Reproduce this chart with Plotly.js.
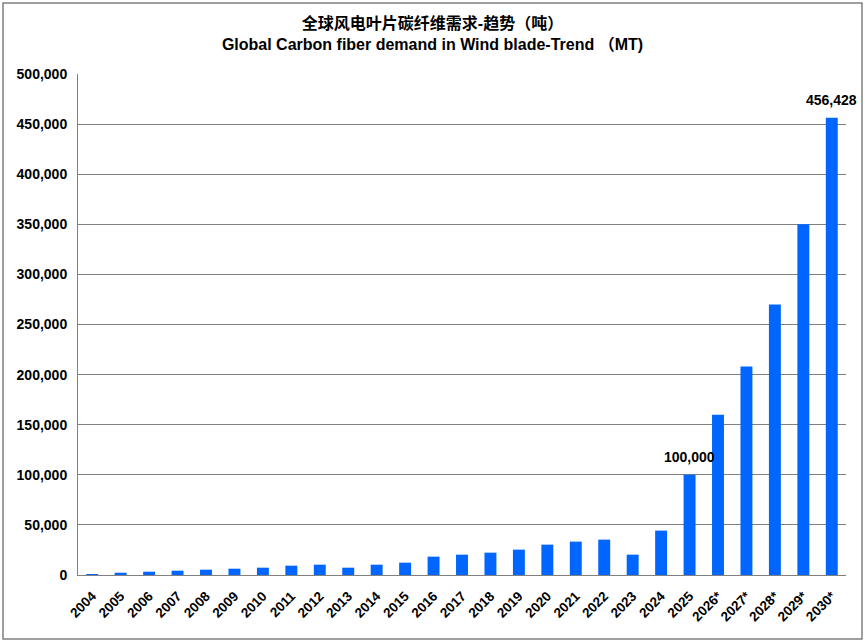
<!DOCTYPE html>
<html>
<head>
<meta charset="utf-8">
<script src="https://cdn.plot.ly/plotly-3.0.1.min.js"></script>
<style>html,body{margin:0;padding:0;background:#fff;}#chart{width:865px;height:643px;}</style>
</head>
<body>
<div id="chart"></div>
<script>
const years = ["2004","2005","2006","2007","2008","2009","2010","2011","2012","2013","2014","2015","2016","2017","2018","2019","2020","2021","2022","2023","2024","2025","2026*","2027*","2028*","2029*","2030*"];
const demand = [1000,2300,3300,4300,5300,6300,7300,9300,10300,7300,10300,12300,18300,20300,22300,25300,30300,33300,35300,20300,44300,100000,160000,208000,270000,350000,456428];
const labelledYears = ["2025","2030*"];
const titleCn = "全球风电叶片碳纤维需求-趋势（吨）";
const titleEn = "Global Carbon fiber demand in Wind blade-Trend （MT)";

const fontFam = "Liberation Sans, Arial, 'Noto Sans CJK SC', sans-serif";
const W = 865, H = 643;
const m = {l: 78, r: 19, t: 74, b: 68};
const pw = W - m.l - m.r, ph = H - m.t - m.b;
const px = v => (v - m.l) / pw;
const py = v => (H - m.b - v) / ph;

const idx = years.map((_, i) => i);

const annotations = labelledYears.map(y => {
  const i = years.indexOf(y);
  return {
    x: idx[i], y: demand[i], xref: 'x', yref: 'y',
    text: '<b>' + demand[i].toLocaleString('en-US') + '</b>',
    showarrow: false, yanchor: 'bottom', yshift: 8,
    font: {family: fontFam, size: 14, color: '#000'}
  };
});

const trace = {
  type: 'bar', x: idx, y: demand,
  marker: {color: '#0066FF'},
  width: 0.42
};

const layout = {
  width: W, height: H,
  margin: m,
  paper_bgcolor: '#fff', plot_bgcolor: '#fff',
  showlegend: false,
  title: {
    text: '<b>' + titleCn + '</b><br><b>' + titleEn + '</b>',
    font: {family: fontFam, size: 16, color: '#000'},
    x: 0.5, xanchor: 'center', xref: 'container',
    y: 0.955, yanchor: 'top'
  },
  xaxis: {
    range: [-0.5, years.length - 0.5],
    tickmode: 'array', tickvals: idx, ticktext: years,
    tickangle: -45,
    showline: true, linecolor: '#808080', linewidth: 1,
    showgrid: false, zeroline: false, ticks: '', ticklabelstandoff: 7,
    tickfont: {family: fontFam, size: 13.5, color: '#000', weight: 'bold'}
  },
  yaxis: {
    range: [0, 500000], dtick: 50000, tickformat: ',d',
    showline: true, linecolor: '#808080', linewidth: 1,
    showgrid: true, gridcolor: '#808080', gridwidth: 1,
    ticks: '', zeroline: false, ticklabelstandoff: 7,
    tickfont: {family: fontFam, size: 14, color: '#000', weight: 'bold'}
  },
  annotations: annotations,
  shapes: [{
    type: 'rect', xref: 'paper', yref: 'paper',
    x0: px(3), x1: px(862), y0: py(639), y1: py(3),
    line: {color: '#808080', width: 1.5}, fillcolor: 'rgba(0,0,0,0)', layer: 'below'
  }]
};

Plotly.newPlot('chart', [trace], layout, {displayModeBar: false, staticPlot: true});
</script>
</body>
</html>
